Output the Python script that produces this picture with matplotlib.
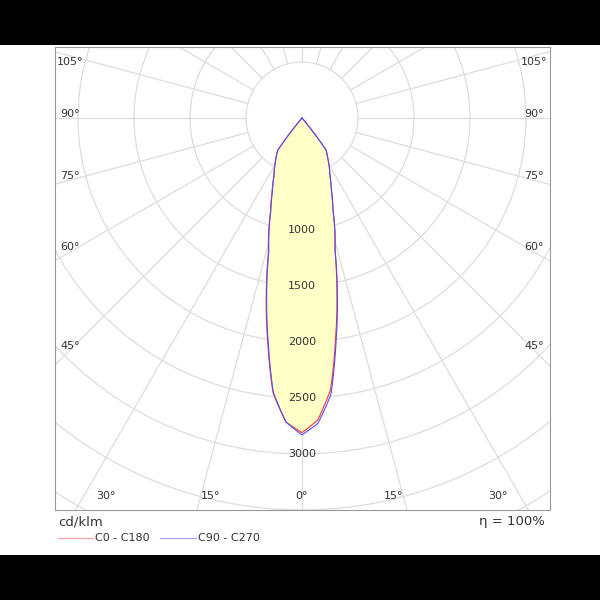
import numpy as np
import matplotlib.pyplot as plt
from matplotlib.patches import Rectangle, Circle
from matplotlib.lines import Line2D

# intensity curve, cd/klm, angle from nadir (deg)
angles = [0, 3, 6, 8.6, 11.5, 14, 18.6, 22, 26, 32, 37, 40, 90]
c0_c180_right = [2810, 2700, 2440, 2000, 1565, 1215, 866, 700, 567, 440, 357, 0, 0]
c0_c180_left = [2810, 2720, 2470, 2040, 1600, 1240, 880, 710, 570, 445, 360, 0, 0]
c90_c270_right = [2830, 2730, 2480, 2030, 1580, 1225, 870, 702, 567, 440, 357, 0, 0]
c90_c270_left = [2830, 2720, 2460, 2020, 1580, 1225, 872, 705, 568, 442, 358, 0, 0]
ring_labels = [1000, 1500, 2000, 2500, 3000]
side_angles = [45, 60, 75, 90, 105]
bottom_angles = [0, 15, 30]

px = 8.93  # cd per pixel
cx, cy = 302, 118


def to_xy(vals, side):
    a = np.linspace(0, 90, 400)
    v = np.interp(a, angles, vals)
    t = np.radians(a)
    return side * v * np.sin(t), -v * np.cos(t)


def curve(left, right):
    xl, yl = to_xy(left, -1)
    xr, yr = to_xy(right, 1)
    return np.concatenate([xl[::-1], xr]), np.concatenate([yl[::-1], yr])


fig = plt.figure(figsize=(6, 6), dpi=100, facecolor='black')
fig.patches.append(Rectangle((0, 45 / 600), 1, 510 / 600, transform=fig.transFigure,
                             facecolor='white', edgecolor='none', zorder=-5))
ax = fig.add_axes([55 / 600, 90 / 600, 495 / 600, 463 / 600], zorder=2)
ax.set_facecolor('white')
ax.set_xlim((55 - cx) * px, (550 - cx) * px)
ax.set_ylim(-(510 - cy) * px, (cy - 47) * px)
ax.set_xticks([])
ax.set_yticks([])
for s in ax.spines.values():
    s.set_color('#999999')

grid = '#dddddd'
for r in range(500, 8000, 500):
    ax.add_patch(Circle((0, 0), r, fill=False, edgecolor=grid, lw=0.9))
for d in range(0, 360, 15):
    t = np.radians(d)
    ax.plot([500 * np.sin(t), 8000 * np.sin(t)], [-500 * np.cos(t), -8000 * np.cos(t)],
            color=grid, lw=0.9)

x, y = curve(c0_c180_left, c0_c180_right)
ax.fill(x, y, color='#ffffc8', zorder=2)
ax.plot(x, y, color='#ff3030', lw=0.8, zorder=3)
x, y = curve(c90_c270_left, c90_c270_right)
ax.plot(x, y, color='#5050ff', lw=0.8, zorder=3)

for r in ring_labels:
    ax.text(0, -r, str(r), ha='center', va='center', fontsize=8, color='#333333', zorder=4)

xs = (cx - 70) * px
for d in side_angles:
    yy = -xs / np.tan(np.radians(d)) if d != 90 else 0
    yy = min(yy, (cy - 66) * px)
    for sx in (-1, 1):
        ax.text(sx * xs, yy + 40, f'{d}°', ha='center', va='center',
                fontsize=8, color='#333333')

yb = -(496 - cy) * px
for d in bottom_angles:
    xx = abs(yb) * np.tan(np.radians(d)) * 0.9
    for sx in ((1,) if d == 0 else (-1, 1)):
        ax.text(sx * xx, yb, f'{d}°', ha='center', va='center', fontsize=8, color='#333333')

fig.text(58 / 600, 1 - 522 / 600, 'cd/klm', fontsize=9.5, color='#333333', va='center')
fig.text(545 / 600, 1 - 522 / 600, 'η = 100%', fontsize=9.5, color='#333333',
         va='center', ha='right')
yl = 1 - 538 / 600
fig.lines.append(Line2D([58 / 600, 93 / 600], [yl, yl], color='#ffaaaa', lw=1,
                        transform=fig.transFigure))
fig.text(95 / 600, yl, 'C0 - C180', fontsize=8, color='#333333', va='center')
fig.lines.append(Line2D([160 / 600, 196 / 600], [yl, yl], color='#aaaaff', lw=1,
                        transform=fig.transFigure))
fig.text(198 / 600, yl, 'C90 - C270', fontsize=8, color='#333333', va='center')

fig.savefig('out.png', dpi=100, facecolor='black')
